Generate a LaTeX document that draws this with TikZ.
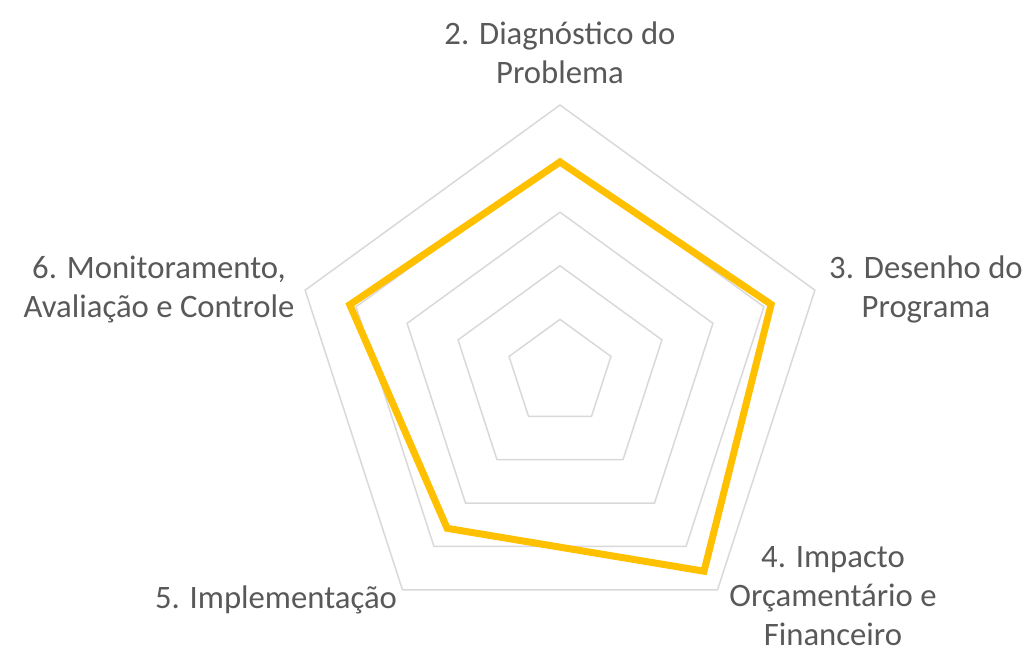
\documentclass[tikz,border=0pt]{standalone}
\usepackage{fontspec}
\setmainfont{Carlito}
\definecolor{gridgray}{HTML}{D9D9D9}
\definecolor{labelgray}{HTML}{595959}
\definecolor{gold}{HTML}{FFC000}
\begin{document}
\begin{tikzpicture}[x=1pt,y=1pt,
  gridline/.style={draw=gridgray,line width=1.5pt,line join=miter},
  dataline/.style={draw=gold,line width=7pt,line join=miter},
  lbl/.style={text=labelgray,align=center,inner sep=0pt,font=\fontsize{32.7}{39}\selectfont}]
\fill[white] (0,0) rectangle (1030,651);
\useasboundingbox (0,0) rectangle (1030,651);
\begin{scope}[shift={(560,278)}]
\foreach \k in {1,...,5}{
  \pgfmathsetmacro{\r}{53.6*\k}
  \draw[gridline] (90:\r) -- (18:\r) -- (-54:\r) -- (234:\r) -- (162:\r) -- cycle;
}
\draw[dataline] (90:211) -- (18:222) -- (-54:245) -- (234:192) -- (162:221) -- cycle;
\end{scope}
\node[lbl] (l2) at (560,598) {2. Diagnóstico do\\Problema};
\node[lbl] (l3) at (926,362) {3. Desenho do\\Programa};
\node[lbl] (l4) at (833,55) {4. Impacto\\Orçamentário e\\Financeiro};
\node[lbl] (l5) at (276,51) {5. Implementação};
\node[lbl] (l6) at (159,362) {6. Monitoramento,\\Avaliação e Controle};
\end{tikzpicture}
\end{document}
